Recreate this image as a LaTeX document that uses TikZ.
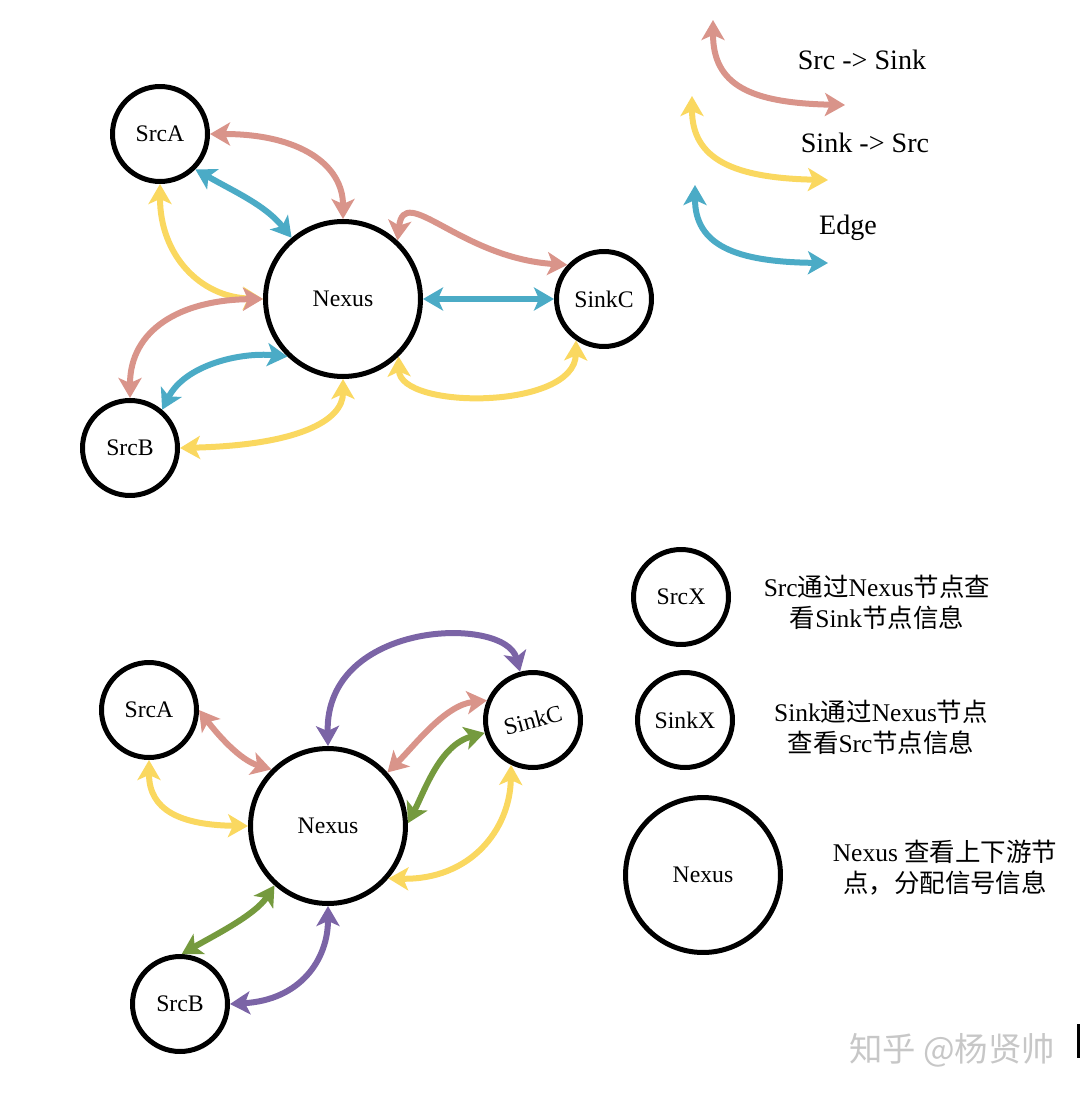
\documentclass[tikz,border=0pt]{standalone}
\usepackage{fontspec}
\setmainfont{Liberation Serif}
\newfontfamily\cjk{Noto Sans CJK SC}
\usetikzlibrary{arrows.meta}

\definecolor{srcsink}{RGB}{217,148,138}
\definecolor{sinksrc}{RGB}{250,216,96}
\definecolor{edgeblue}{RGB}{75,171,198}
\definecolor{viewsink}{RGB}{123,100,166}
\definecolor{viewsrc}{RGB}{117,154,62}

\begin{document}
\begin{tikzpicture}[x=0.02cm, y=-0.02cm,
    unit/.style={circle, draw, line width=0.1cm, minimum size=1.9cm, inner sep=0pt, font=\fontsize{13.5}{15}\selectfont},
    hub/.style={unit, minimum size=3.1cm},
    link/.style={line width=0.12cm, {Stealth[length=0.4cm,width=0.46cm,inset=0.1cm]}-{Stealth[length=0.4cm,width=0.46cm,inset=0.1cm]}},
    note/.style={align=center, font=\fontsize{14.5}{17.5}\selectfont},
    key/.style={font=\fontsize{16}{18}\selectfont}]
    \useasboundingbox (0,0) rectangle (1080,1098);

    % Top graph: nodes
    \node (tA) at (160,134) [unit] {SrcA};
    \node (tN) at (343,299) [hub] {Nexus};
    \node (tC) at (604,299) [unit] {SinkC};
    \node (tB) at (130,448) [unit] {SrcB};

    % Top graph: links
    \draw[link, sinksrc] (tA.-90) .. controls (160,255) and (200,297) .. (tN.180);
    \draw[link, srcsink] (tA.0) .. controls (300,134) and (343,165) .. (tN.90);
    \draw[link, edgeblue] (tA.-45) .. controls (235,192) and (265,205) .. (tN.130);
    \draw[link, srcsink] (tB.90) .. controls (130,330) and (180,300) .. (tN.180);
    \draw[link, edgeblue] (tB.50) .. controls (185,365) and (240,352) .. (tN.226);
    \draw[link, sinksrc] (tB.0) .. controls (300,445) and (343,420) .. (tN.-90);
    \draw[link, srcsink] (tN.47) .. controls (404,182) and (460,258) .. (tC.137);
    \draw[link, edgeblue] (tN.0) -- (tC.180);
    \draw[link, sinksrc] (tN.-46) .. controls (400,410) and (575,410) .. (tC.-124);

    % Top legend
    \coordinate (k1a) at (713,20);
    \coordinate (k1b) at (845,105);
    \coordinate (k2a) at (692,96);
    \coordinate (k2b) at (828,180);
    \coordinate (k3a) at (695,185);
    \coordinate (k3b) at (828,263);
    \draw[link, srcsink] (k1a) .. controls (713,85) and (750,103) .. (k1b);
    \draw[link, sinksrc] (k2a) .. controls (692,160) and (735,178) .. (k2b);
    \draw[link, edgeblue] (k3a) .. controls (695,245) and (735,262) .. (k3b);
    \node (k1) at (862,60) [key] {Src -> Sink};
    \node (k2) at (865,143) [key] {Sink -> Src};
    \node (k3) at (848,228) [key] {Edge};

    % Bottom graph: nodes
    \node (bA) at (149,710) [unit] {SrcA};
    \node (bN) at (328,826) [hub] {Nexus};
    \node (bC) at (533,720) [unit] {\rotatebox{15}{SinkC}};
    \node (bB) at (180,1004) [unit] {SrcB};

    % Bottom graph: links
    \draw[link, srcsink] (bA.0) .. controls (218,735) and (240,760) .. (bN.135);
    \draw[link, sinksrc] (bA.-90) .. controls (149,810) and (180,825) .. (bN.180);
    \draw[link, viewsink] (bN.90) .. controls (325,620) and (505,615) .. (bC.105);
    \draw[link, srcsink] (bN.42) .. controls (415,745) and (445,705) .. (bC.157);
    \draw[link, viewsrc] (bN.2) .. controls (425,790) and (440,745) .. (bC.195);
    \draw[link, sinksrc] (bN.-41) .. controls (470,880) and (510,830) .. (bC.-116);
    \draw[link, viewsrc] (bB.88) .. controls (215,935) and (255,915) .. (bN.228);
    \draw[link, viewsink] (bB.0) .. controls (300,1000) and (328,960) .. (bN.-90);

    % Bottom legend
    \node (xS) at (681,597) [unit] {SrcX};
    \node (xK) at (685,720) [unit] {SinkX};
    \node (xN) at (703,875) [hub] {Nexus};
    \node (nS) at (877,602) [note] {Src{\cjk 通过}Nexus{\cjk 节点查}\\{\cjk 看}Sink{\cjk 节点信息}};
    \node (nK) at (881,727) [note] {Sink{\cjk 通过}Nexus{\cjk 节点}\\{\cjk 查看}Src{\cjk 节点信息}};
    \node (nN) at (945,868) [note] {Nexus {\cjk 查看上下游节}\\{\cjk 点，分配信号信息}};

    % Watermark
    \node (mark) at (952,1050) [text=black!22, font=\cjk\fontsize{19}{21}\selectfont] {知乎 @杨贤帅};
    \fill (1077,1024) rectangle (1080,1058);
\end{tikzpicture}
\end{document}
